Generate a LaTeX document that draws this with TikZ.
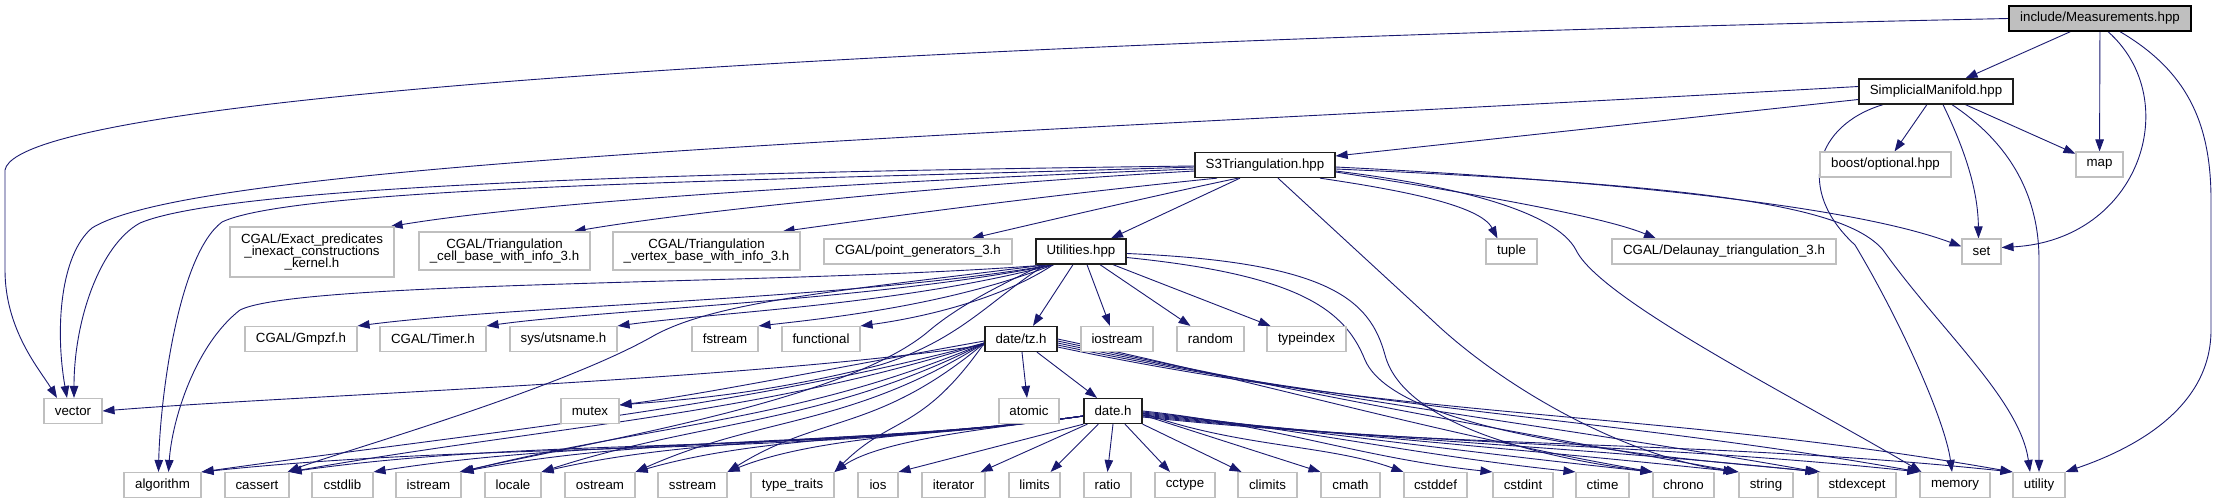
\documentclass[tikz,border=0pt]{standalone}
\usepackage{fontspec}
\setmainfont{Liberation Sans}
\usetikzlibrary{arrows.meta}
\definecolor{edgec}{RGB}{25,25,112}
\definecolor{hdrline}{RGB}{191,191,191}
\definecolor{srcfill}{RGB}{191,191,191}
\definecolor{mainline}{RGB}{30,30,30}
\pgfdeclarelayer{background}
\pgfsetlayers{background,main}
\begin{document}
\begin{tikzpicture}[x=1pt,y=-1pt,
  box/.style={rectangle, inner sep=0pt, minimum height=25pt, font=\fontsize{13.3pt}{12.4pt}\selectfont, align=center},
  hdr/.style={box, draw=hdrline, line width=1.1pt, fill=white},
  mainnode/.style={box, draw=mainline, line width=1.3pt, fill=white},
  srcnode/.style={box, draw=black, line width=1.3pt, fill=srcfill},
  edge/.style={draw=edgec, line width=0.9pt, -{Triangle[length=12pt,width=8.5pt]}}]
\useasboundingbox (0,0) rectangle (2217,503);

% --- nodes ---
\node[srcnode, minimum width=182pt] (M) at (2100,18.5) {include/Measurements.hpp};
\node[mainnode, minimum width=154pt] (SM) at (1936,91.5) {SimplicialManifold.hpp};
\node[hdr, minimum width=131pt] (bopt) at (1885.5,164.5) {boost/optional.hpp};
\node[hdr, minimum width=47pt] (map) at (2099.5,164.5) {map};
\node[mainnode, minimum width=140pt] (S3) at (1265,165) {S3Triangulation.hpp};
\node[hdr, minimum width=164pt, minimum height=50pt] (exact) at (312,252) {CGAL/Exact\_predicates\\\_inexact\_constructions\\\_kernel.h};
\node[hdr, minimum width=171pt, minimum height=38pt] (cell) at (504.5,251) {CGAL/Triangulation\\\_cell\_base\_with\_info\_3.h};
\node[hdr, minimum width=187pt, minimum height=38pt] (vert) at (706.5,251) {CGAL/Triangulation\\\_vertex\_base\_with\_info\_3.h};
\node[hdr, minimum width=188pt] (pgen) at (918,251.5) {CGAL/point\_generators\_3.h};
\node[mainnode, minimum width=90pt] (U) at (1081,251.5) {Utilities.hpp};
\node[hdr, minimum width=51pt] (tuple) at (1511.5,251.5) {tuple};
\node[hdr, minimum width=224pt] (delau) at (1724,251.5) {CGAL/Delaunay\_triangulation\_3.h};
\node[hdr, minimum width=39pt] (set) at (1981.5,251.5) {set};
\node[hdr, minimum width=112pt] (gmpzf) at (301,339) {CGAL/Gmpzf.h};
\node[hdr, minimum width=106pt] (timer) at (433,339) {CGAL/Timer.h};
\node[hdr, minimum width=107pt] (utsname) at (563.5,339) {sys/utsname.h};
\node[hdr, minimum width=66pt] (fstream) at (725,339) {fstream};
\node[hdr, minimum width=78pt] (functional) at (821,339) {functional};
\node[mainnode, minimum width=72pt] (tz) at (1021,339) {date/tz.h};
\node[hdr, minimum width=72pt] (iostream) at (1117,339) {iostream};
\node[hdr, minimum width=67pt] (random) at (1210.5,339) {random};
\node[hdr, minimum width=79pt] (typeindex) at (1306.5,339) {typeindex};
\node[hdr, minimum width=58pt] (vector) at (73,411) {vector};
\node[hdr, minimum width=58pt] (mutex) at (590,411) {mutex};
\node[hdr, minimum width=60pt] (atomic) at (1029,411) {atomic};
\node[mainnode, minimum width=58pt] (D) at (1113,411) {date.h};
\foreach \n/\x/\w/\l in {algorithm/162.5/77/algorithm, cassert/257/64/cassert,
  cstdlib/342.5/61/cstdlib, istream/428.5/65/istream, locale/513/56/locale,
  ostream/600/70/ostream, sstream/692.5/69/sstream, typetraits/792.5/83/type\_traits,
  ios/878/40/ios, iterator/953.5/63/iterator, limits/1034.5/51/limits,
  ratio/1107.5/47/ratio, cctype/1185/60/cctype, climits/1267.5/59/climits,
  cmath/1350.5/59/cmath, cstddef/1435.5/63/cstddef, cstdint/1523/60/cstdint,
  ctime/1602.5/53/ctime, chrono/1683.5/61/chrono, string/1766/54/string,
  stdexcept/1857/78/stdexcept, memory/1955/70/memory, utility/2039/52/utility}
  \node[hdr, minimum width=\w pt] (\n) at (\x,485) {\l};

\begin{pgfonlayer}{background}
% --- Measurements.hpp ---
\draw[edge] (M) -- (SM);
\draw[edge] (M) -- (map);
\draw[edge] ([xshift=8pt]M.south) .. controls (2185,100) and (2140,240) .. ([yshift=4pt]set.east);
\draw[edge] ([xshift=20pt]M.south) .. controls (2185,70) and (2211,120) .. (2211,200) -- (2211,330) .. controls (2211,410) and (2130,450) .. (utility.north east);
\draw[edge] (M.west) .. controls (1000,40) and (20,90) .. (5,170) -- (5,270) .. controls (5,330) and (40,370) .. ([xshift=-16pt]vector.north);

% --- SimplicialManifold.hpp ---
\draw[edge] ([yshift=-8pt]SM.west) -- ([yshift=9pt]S3.east);
\draw[edge] ([yshift=5pt]SM.west) .. controls (1000,135) and (200,160) .. (92,228) .. controls (60,255) and (55,330) .. ([xshift=-6pt]vector.north);
\draw[edge] (SM) -- (bopt);
\draw[edge] (SM) -- (map);
\draw[edge] ([xshift=7pt]SM.south) .. controls (1965,150) and (1978,190) .. ([xshift=-3pt]set.north);
\draw[edge] ([xshift=16pt]SM.south) .. controls (2005,140) and (2039,190) .. (2039,260) -- (utility.north);
\draw[edge] ([xshift=-53pt]SM.south) .. controls (1815,125) and (1795,190) .. (1855,245) .. controls (1900,320) and (1945,420) .. ([xshift=-3pt]memory.north);

% --- S3Triangulation.hpp ---
\draw[edge] ([yshift=-1pt]S3.west) .. controls (700,172) and (230,185) .. (140,223) .. controls (100,245) and (74,320) .. ([xshift=1pt]vector.north);
\draw[edge] ([yshift=-2pt]S3.west) .. controls (800,180) and (300,185) .. (222,222) .. controls (178,255) and (160,400) .. ([xshift=-4pt]algorithm.north);
\draw[edge] ([yshift=-4pt]S3.west) .. controls (900,180) and (550,200) .. ([xshift=-4pt]exact.north east);
\draw[edge] ([yshift=-6pt]S3.west) .. controls (950,185) and (700,210) .. ([xshift=-17pt]cell.north east);
\draw[edge] ([xshift=-48pt]S3.south) .. controls (1050,195) and (900,215) .. ([xshift=-18pt]vert.north east);
\draw[edge] ([xshift=-27pt]S3.south) .. controls (1180,190) and (1050,220) .. ([xshift=-41pt]pgen.north east);
\draw[edge] ([xshift=-25pt]S3.south) -- ([xshift=30pt]U.north);
\draw[edge] ([xshift=55pt]S3.south) .. controls (1400,190) and (1480,205) .. ([xshift=-14pt]tuple.north);
\draw[edge] ([yshift=-7pt]S3.east) .. controls (1450,190) and (1600,215) .. ([xshift=-68pt]delau.north);
\draw[edge] ([yshift=-2pt]S3.east) .. controls (1600,180) and (1850,205) .. ([yshift=5pt]set.west);
\draw[edge] ([yshift=-4pt]S3.east) .. controls (1700,185) and (1845,205) .. (1883,250) .. controls (1940,330) and (2020,400) .. ([xshift=-9pt]utility.north);
\draw[edge] ([yshift=-6pt]S3.east) .. controls (1450,185) and (1555,210) .. (1576,250) .. controls (1600,300) and (1800,400) .. ([xshift=2pt]memory.north west);
\draw[edge] ([xshift=13pt]S3.south) -- (1432,320) .. controls (1500,385) and (1620,455) .. ([xshift=-3pt]string.north west);

% --- Utilities.hpp ---
\draw[edge] ([xshift=18pt]U.south west) .. controls (850,300) and (520,305) .. (gmpzf.north east);
\draw[edge] ([xshift=18pt]U.south west) .. controls (880,300) and (600,310) .. (timer.north east);
\draw[edge] ([xshift=18pt]U.south west) .. controls (900,305) and (720,312) .. (utsname.north east);
\draw[edge] ([xshift=18pt]U.south west) .. controls (950,305) and (830,318) .. (fstream.north east);
\draw[edge] ([xshift=18pt]U.south west) .. controls (1000,300) and (920,318) .. (functional.north east);
\draw[edge] ([xshift=15pt]U.south west) .. controls (800,285) and (300,280) .. (240,310) .. controls (195,345) and (172,420) .. ([xshift=6pt]algorithm.north);
\draw[edge] ([xshift=12pt]U.south west) .. controls (850,290) and (720,300) .. (655,335) .. controls (560,390) and (330,455) .. ([xshift=-2pt]cassert.north east);
\draw[edge] ([xshift=8pt]U.south west) .. controls (1000,285) and (960,305) .. (930,330) .. controls (850,400) and (600,440) .. ([xshift=-2pt]istream.north east);
\draw[edge] ([xshift=10pt]U.south west) .. controls (990,300) and (960,340) .. (880,365) .. controls (760,395) and (680,400) .. ([yshift=6pt]mutex.east);
\draw[edge] ([xshift=-8pt]U.south) -- ([xshift=12pt]tz.north);
\draw[edge] ([xshift=6pt]U.south) -- ([xshift=-7pt]iostream.north);
\draw[edge] ([xshift=19pt]U.south) -- ([xshift=-20pt]random.north);
\draw[edge] ([xshift=32pt]U.south) -- ([xshift=-36pt]typeindex.north);
\draw[edge] ([yshift=-2pt]U.east) .. controls (1330,262) and (1370,300) .. (1385,355) .. controls (1405,430) and (1560,460) .. (chrono.north west);
\draw[edge] ([yshift=-6pt]U.east) .. controls (1300,275) and (1345,310) .. (1365,360) .. controls (1400,440) and (1700,460) .. ([xshift=3pt]stdexcept.north west);

% --- date/tz.h ---
\draw[edge] ([yshift=-6pt]tz.west) .. controls (750,380) and (300,395) .. (vector.east);
\draw[edge] ([yshift=-2pt]tz.west) .. controls (850,365) and (700,395) .. ([yshift=6pt]mutex.east);
\draw[edge] ([xshift=1pt]tz.south) -- ([xshift=-2pt]atomic.north);
\draw[edge] ([xshift=16pt]tz.south) -- ([xshift=-16pt]D.north);
\foreach \t/\a/\d/\c/\e in {algorithm/195/250/8/300, cassert/198/230/10/260,
  istream/203/200/14/200, locale/207/180/18/170, ostream/212/160/24/140,
  sstream/220/140/32/110, typetraits/235/110/45/80}
  \draw[edge] ([yshift=-4pt]tz.west) .. controls +(\a:\d pt) and +(\c:\e pt) .. (\t.north east);
\foreach \t/\s/\d in {chrono/0/220, string/2/250, stdexcept/4/280, memory/6/320, utility/8/360}
  \draw[edge] ([yshift=-\s pt]tz.east) .. controls +(-12:\d pt) and +(170:\d pt) .. (\t.north west);

% --- date.h ---
\foreach \t/\p/\c/\e in {algorithm/300/6/300, cassert/280/8/260, cstdlib/250/9/230,
  istream/220/11/200, locale/190/13/170, ostream/160/16/140, sstream/120/22/100,
  typetraits/70/35/60}
  \draw[edge] ([yshift=-5pt]D.west) .. controls +(188:\p pt) and +(\c:\e pt) .. (\t.north east);
\draw[edge] (D.south west) -- (ios.north east);
\draw[edge] ([xshift=4pt]D.south west) -- ([xshift=-5pt]iterator.north east);
\draw[edge] ([xshift=15pt]D.south west) -- ([xshift=-10pt]limits.north east);
\draw[edge] (D.south) -- (ratio.north);
\draw[edge] ([xshift=12pt]D.south) -- ([xshift=-15pt]cctype.north);
\draw[edge] (D.south east) -- ([xshift=-26pt]climits.north);
\draw[edge] ([yshift=-4pt]D.east) -- (cmath.north west);
\draw[edge] ([yshift=-2pt]D.east) .. controls +(-20:100pt) and +(160:80pt) .. (cstddef.north west);
\foreach \t/\s/\d in {cstdint/0/130, ctime/1/160, chrono/2/190, string/3/220, stdexcept/4/250, memory/5/280, utility/6/310}
  \draw[edge] ([yshift=-\s pt]D.east) .. controls +(-6:\d pt) and +(174:\d pt) .. (\t.north west);
\end{pgfonlayer}
\end{tikzpicture}
\end{document}
